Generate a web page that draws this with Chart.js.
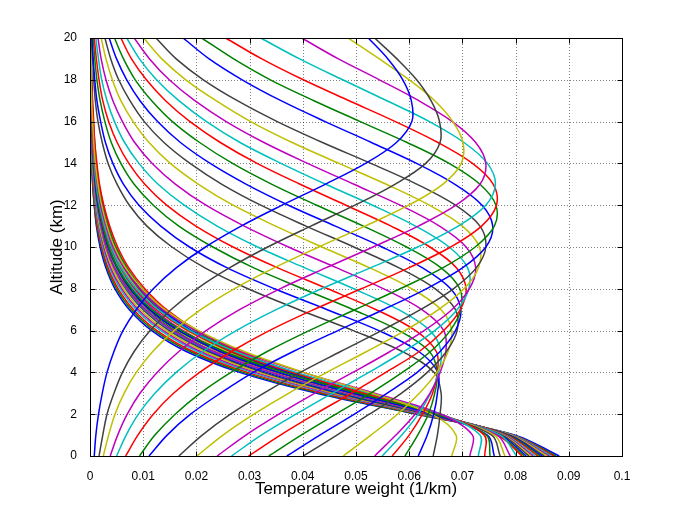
<!DOCTYPE html>
<html>
<head>
<meta charset="utf-8">
<script src="https://cdn.jsdelivr.net/npm/chart.js@4.4.1/dist/chart.umd.min.js"></script>
<style>
  html, body { margin: 0; padding: 0; background: #fff; }
  #wrap { width: 685px; height: 513px; }
</style>
</head>
<body>
<div id="wrap"><canvas id="chart" width="685" height="513"></canvas></div>
<script>
// altitude levels (km) shared by every curve
const altitudes = [0, 1, 2, 3, 4, 5, 6, 7, 8, 9, 10, 11, 12, 13, 14, 15, 16, 17, 18, 19, 20];

const xTickValues = [0, 0.01, 0.02, 0.03, 0.04, 0.05, 0.06, 0.07, 0.08, 0.09, 0.1];
const xTickLabels = ['0', '0.01', '0.02', '0.03', '0.04', '0.05', '0.06', '0.07', '0.08', '0.09', '0.1'];
const yTickValues = [0, 2, 4, 6, 8, 10, 12, 14, 16, 18, 20];
const yTickLabels = ['0', '2', '4', '6', '8', '10', '12', '14', '16', '18', '20'];

// temperature weight (1/km) of each channel, highest peak first
const w01 = [.0008,.0011,.0016,.0023,.0032,.0045,.0062,.0087,.0119,.0162,.0217,.0284,.0361,.0442,.0518,.0576,.0605,.0604,.0588,.0560,.0523];
const w02 = [.0017,.0024,.0032,.0045,.0061,.0083,.0113,.0152,.0201,.0262,.0334,.0415,.0498,.0573,.0631,.0658,.0657,.0641,.0614,.0577,.0535];
const w03 = [.0025,.0035,.0047,.0064,.0087,.0118,.0158,.0208,.0271,.0346,.0430,.0517,.0599,.0663,.0698,.0701,.0682,.0648,.0600,.0544,.0485];
const w04 = [.0038,.0052,.0070,.0094,.0126,.0167,.0218,.0281,.0357,.0443,.0532,.0617,.0688,.0733,.0744,.0725,.0681,.0618,.0544,.0467,.0398];
const w05 = [.0050,.0068,.0091,.0122,.0162,.0212,.0275,.0350,.0435,.0527,.0616,.0692,.0744,.0762,.0747,.0703,.0638,.0558,.0475,.0394,.0321];
const w06 = [.0067,.0090,.0119,.0157,.0206,.0266,.0337,.0420,.0510,.0599,.0678,.0736,.0764,.0758,.0719,.0654,.0574,.0487,.0401,.0323,.0255];
const w07 = [.0093,.0122,.0160,.0207,.0265,.0333,.0412,.0498,.0583,.0663,.0724,.0760,.0763,.0733,.0675,.0596,.0508,.0421,.0339,.0270,.0210];
const w08 = [.0111,.0145,.0189,.0245,.0307,.0382,.0466,.0551,.0632,.0700,.0744,.0757,.0737,.0686,.0614,.0529,.0442,.0359,.0286,.0224,.0175];
const w09 = [.0167,.0211,.0264,.0326,.0395,.0471,.0548,.0621,.0683,.0726,.0744,.0733,.0687,.0615,.0528,.0437,.0352,.0277,.0213,.0162,.0124];
const w10 = [.0201,.0250,.0308,.0373,.0445,.0520,.0592,.0655,.0703,.0730,.0732,.0700,.0638,.0557,.0468,.0380,.0302,.0237,.0180,.0135,.0101];
const w11 = [.0239,.0293,.0355,.0422,.0494,.0564,.0628,.0680,.0713,.0725,.0707,.0657,.0583,.0496,.0409,.0327,.0256,.0197,.0149,.0112,.0083];
const w12 = [.0266,.0322,.0387,.0455,.0524,.0590,.0648,.0690,.0712,.0710,.0675,.0612,.0531,.0443,.0359,.0282,.0219,.0167,.0125,.0093,.0069];
const w13 = [.0298,.0358,.0423,.0491,.0556,.0619,.0665,.0696,.0707,.0689,.0639,.0566,.0481,.0395,.0314,.0245,.0188,.0142,.0106,.0078,.0058];
const w14 = [.0336,.0397,.0462,.0527,.0587,.0640,.0677,.0697,.0695,.0660,.0595,.0514,.0426,.0342,.0268,.0206,.0155,.0116,.0085,.0063,.0046];
const w15 = [.0370,.0432,.0497,.0558,.0615,.0658,.0687,.0697,.0678,.0625,.0549,.0461,.0373,.0294,.0226,.0170,.0127,.0094,.0069,.0050,.0036];
const w16 = [.0401,.0464,.0525,.0585,.0634,.0670,.0690,.0687,.0649,.0581,.0496,.0406,.0321,.0248,.0188,.0139,.0102,.0075,.0054,.0039,.0028];
const w17 = [.0476,.0528,.0578,.0619,.0652,.0673,.0680,.0660,.0605,.0526,.0436,.0349,.0269,.0204,.0151,.0111,.0081,.0058,.0042,.0030,.0021];
const w18 = [.0535,.0575,.0611,.0639,.0658,.0669,.0665,.0624,.0552,.0464,.0373,.0290,.0218,.0161,.0117,.0084,.0061,.0043,.0030,.0021,.0015];
const w19 = [.0549,.0586,.0617,.0640,.0655,.0660,.0639,.0580,.0496,.0404,.0315,.0239,.0177,.0128,.0092,.0065,.0046,.0032,.0022,.0016,.0011];
const w20 = [.0568,.0600,.0625,.0644,.0653,.0651,.0612,.0538,.0447,.0353,.0269,.0199,.0144,.0103,.0073,.0051,.0035,.0024,.0017,.0012,.0008];
const w21 = [.0592,.0616,.0636,.0648,.0653,.0638,.0581,.0495,.0400,.0308,.0231,.0167,.0119,.0083,.0058,.0040,.0028,.0019,.0013,.0009,.0006];
const w22 = [.0617,.0634,.0646,.0653,.0654,.0618,.0543,.0446,.0347,.0258,.0187,.0133,.0092,.0063,.0043,.0029,.0020,.0013,.0009,.0006,.0004];
const w23 = [.0645,.0653,.0658,.0660,.0647,.0587,.0495,.0393,.0297,.0216,.0154,.0107,.0074,.0051,.0034,.0023,.0015,.0010,.0007,.0005,.0003];
const w24 = [.0680,.0688,.0642,.0530,.0402,.0290,.0204,.0141,.0098,.0067,.0046,.0032,.0022,.0015,.0010,.0007,.0005,.0003,.0002,.0002,.0001];
const w25 = [.0714,.0719,.0660,.0535,.0400,.0285,.0199,.0137,.0094,.0064,.0043,.0030,.0020,.0014,.0009,.0006,.0004,.0003,.0002,.0001,.0001];
const w26 = [.0730,.0733,.0660,.0526,.0388,.0273,.0188,.0128,.0087,.0059,.0040,.0027,.0018,.0012,.0008,.0006,.0004,.0003,.0002,.0001,.0001];
const w27 = [.0742,.0741,.0659,.0520,.0380,.0267,.0184,.0125,.0085,.0058,.0039,.0026,.0018,.0012,.0008,.0005,.0004,.0002,.0002,.0001,.0001];
const w28 = [.0752,.0745,.0650,.0504,.0364,.0252,.0172,.0116,.0078,.0052,.0035,.0024,.0016,.0011,.0007,.0005,.0003,.0002,.0001,.0001,.0001];
const w29 = [.0760,.0747,.0643,.0494,.0354,.0245,.0167,.0112,.0076,.0051,.0034,.0023,.0015,.0010,.0007,.0005,.0003,.0002,.0001,.0001,.0001];
const w30 = [.0771,.0755,.0645,.0493,.0353,.0244,.0166,.0112,.0075,.0051,.0034,.0023,.0015,.0010,.0007,.0005,.0003,.0002,.0001,.0001,.0001];
const w31 = [.0780,.0760,.0645,.0491,.0351,.0242,.0165,.0111,.0075,.0050,.0034,.0023,.0015,.0010,.0007,.0005,.0003,.0002,.0001,.0001,.0001];
const w32 = [.0790,.0765,.0641,.0482,.0340,.0232,.0156,.0105,.0070,.0046,.0031,.0021,.0014,.0009,.0006,.0004,.0003,.0002,.0001,.0001,.0000];
const w33 = [.0802,.0771,.0642,.0480,.0339,.0231,.0155,.0104,.0069,.0046,.0031,.0020,.0013,.0009,.0006,.0004,.0003,.0002,.0001,.0001,.0000];
const w34 = [.0812,.0766,.0651,.0513,.0384,.0281,.0202,.0144,.0103,.0073,.0052,.0037,.0026,.0018,.0013,.0009,.0007,.0005,.0003,.0002,.0002];
const w35 = [.0816,.0768,.0651,.0509,.0380,.0276,.0197,.0140,.0099,.0070,.0049,.0035,.0025,.0017,.0012,.0009,.0006,.0004,.0003,.0002,.0001];
const w36 = [.0820,.0771,.0649,.0504,.0374,.0269,.0191,.0135,.0095,.0067,.0047,.0033,.0023,.0016,.0011,.0008,.0006,.0004,.0003,.0002,.0001];
const w37 = [.0825,.0774,.0649,.0501,.0369,.0264,.0187,.0131,.0092,.0064,.0045,.0031,.0022,.0015,.0011,.0007,.0005,.0004,.0002,.0002,.0001];
const w38 = [.0829,.0776,.0647,.0497,.0364,.0259,.0182,.0127,.0089,.0061,.0043,.0030,.0020,.0014,.0010,.0007,.0005,.0003,.0002,.0002,.0001];
const w39 = [.0833,.0778,.0645,.0491,.0356,.0252,.0175,.0121,.0084,.0058,.0040,.0027,.0019,.0013,.0009,.0006,.0004,.0003,.0002,.0001,.0001];
const w40 = [.0837,.0780,.0643,.0487,.0351,.0246,.0171,.0118,.0081,.0055,.0038,.0026,.0018,.0012,.0008,.0006,.0004,.0003,.0002,.0001,.0001];
const w41 = [.0842,.0783,.0642,.0483,.0346,.0241,.0166,.0114,.0078,.0053,.0036,.0025,.0017,.0011,.0008,.0005,.0004,.0002,.0002,.0001,.0001];
const w42 = [.0846,.0785,.0639,.0477,.0338,.0233,.0160,.0109,.0073,.0050,.0033,.0023,.0015,.0010,.0007,.0005,.0003,.0002,.0001,.0001,.0001];
const w43 = [.0850,.0787,.0637,.0471,.0332,.0228,.0154,.0104,.0070,.0047,.0032,.0021,.0014,.0010,.0006,.0004,.0003,.0002,.0001,.0001,.0001];
const w44 = [.0854,.0789,.0634,.0466,.0325,.0222,.0149,.0100,.0067,.0045,.0030,.0020,.0013,.0009,.0006,.0004,.0003,.0002,.0001,.0001,.0001];
const w45 = [.0859,.0791,.0631,.0459,.0318,.0215,.0143,.0095,.0063,.0042,.0028,.0018,.0012,.0008,.0005,.0004,.0002,.0002,.0001,.0001,.0000];
const w46 = [.0863,.0792,.0628,.0453,.0311,.0208,.0138,.0091,.0060,.0039,.0026,.0017,.0011,.0007,.0005,.0003,.0002,.0001,.0001,.0001,.0000];
const w47 = [.0867,.0794,.0624,.0447,.0304,.0202,.0133,.0087,.0057,.0037,.0024,.0016,.0010,.0007,.0004,.0003,.0002,.0001,.0001,.0001,.0000];
const w48 = [.0872,.0795,.0620,.0439,.0296,.0194,.0126,.0082,.0053,.0034,.0022,.0014,.0009,.0006,.0004,.0003,.0002,.0001,.0001,.0000,.0000];
const w49 = [.0876,.0796,.0616,.0432,.0288,.0188,.0121,.0078,.0050,.0032,.0021,.0013,.0008,.0005,.0003,.0002,.0001,.0001,.0001,.0000,.0000];
const w50 = [.0882,.0799,.0613,.0426,.0281,.0181,.0116,.0074,.0047,.0030,.0019,.0012,.0008,.0005,.0003,.0002,.0001,.0001,.0001,.0000,.0000];

const curves = [w01, w02, w03, w04, w05, w06, w07, w08, w09, w10,
                w11, w12, w13, w14, w15, w16, w17, w18, w19, w20,
                w21, w22, w23, w24, w25, w26, w27, w28, w29, w30,
                w31, w32, w33, w34, w35, w36, w37, w38, w39, w40,
                w41, w42, w43, w44, w45, w46, w47, w48, w49, w50];

// matlab line colours, cycling (curves were plotted in reverse order)
const palette = ['#0000ff', '#404040', '#bfbf00', '#bf00bf', '#00bfbf', '#ff0000', '#008000'];

const FONT = "'Liberation Sans', Arial, Helvetica, sans-serif";

const datasets = curves.map((w, i) => ({
    label: 'ch' + (i + 1),
    data: altitudes.map((a, j) => ({ x: w[j], y: a })),
    showLine: true,
    borderColor: palette[i % palette.length],
    backgroundColor: palette[i % palette.length],
    borderWidth: 1.5,
    pointRadius: 0,
    tension: 0.35,
    fill: false
}));

// dotted grid, box and inward ticks like a matlab axes
const matlabAxes = {
    id: 'matlabAxes',
    beforeDatasetsDraw(chart) {
        const { ctx, chartArea: a, scales: { x, y } } = chart;
        ctx.save();
        ctx.strokeStyle = 'rgba(0,0,0,0.5)';
        ctx.lineWidth = 1;
        ctx.setLineDash([1, 2]);
        xTickValues.slice(1, -1).forEach(v => {
            const px = Math.round(x.getPixelForValue(v)) + 0.5;
            ctx.beginPath();
            ctx.moveTo(px, a.top);
            ctx.lineTo(px, a.bottom);
            ctx.stroke();
        });
        yTickValues.slice(1, -1).forEach(v => {
            const py = Math.round(y.getPixelForValue(v)) + 0.5;
            ctx.beginPath();
            ctx.moveTo(a.left, py);
            ctx.lineTo(a.right, py);
            ctx.stroke();
        });
        ctx.restore();
    },
    afterDatasetsDraw(chart) {
        const { ctx, chartArea: a, scales: { x, y } } = chart;
        const L = Math.round(a.left) + 0.5, R = Math.round(a.right) + 0.5;
        const T = Math.round(a.top) + 0.5, B = Math.round(a.bottom) + 0.5;
        const len = 5;
        ctx.save();
        ctx.strokeStyle = '#000';
        ctx.lineWidth = 1;
        ctx.strokeRect(L, T, R - L, B - T);
        ctx.beginPath();
        xTickValues.forEach(v => {
            const px = Math.round(x.getPixelForValue(v)) + 0.5;
            ctx.moveTo(px, B); ctx.lineTo(px, B - len);
            ctx.moveTo(px, T); ctx.lineTo(px, T + len);
        });
        yTickValues.forEach(v => {
            const py = Math.round(y.getPixelForValue(v)) + 0.5;
            ctx.moveTo(L, py); ctx.lineTo(L + len, py);
            ctx.moveTo(R, py); ctx.lineTo(R - len, py);
        });
        ctx.stroke();
        ctx.restore();
    }
};

new Chart(document.getElementById('chart'), {
    type: 'scatter',
    data: { datasets },
    options: {
        responsive: false,
        animation: false,
        devicePixelRatio: 1,
        layout: { padding: { left: 0, right: 63, top: 38, bottom: 0 } },
        plugins: {
            legend: { display: false },
            tooltip: { enabled: false }
        },
        scales: {
            x: {
                type: 'linear',
                min: 0,
                max: 0.1,
                afterFit: s => { s.height = 57; },
                afterBuildTicks: s => { s.ticks = xTickValues.map(v => ({ value: v })); },
                grid: { display: false },
                border: { display: false },
                ticks: {
                    padding: 5,
                    color: '#000',
                    font: { family: FONT, size: 12 },
                    maxRotation: 0,
                    autoSkip: false,
                    callback: (v, i) => xTickLabels[i]
                },
                title: {
                    display: true,
                    text: 'Temperature weight (1/km)',
                    color: '#000',
                    font: { family: FONT, size: 17 },
                    padding: { top: 0, bottom: 13 }
                }
            },
            y: {
                type: 'linear',
                min: 0,
                max: 20,
                afterFit: s => { s.width = 90; },
                afterBuildTicks: s => { s.ticks = yTickValues.map(v => ({ value: v })); },
                grid: { display: false },
                border: { display: false },
                ticks: {
                    padding: 5,
                    color: '#000',
                    font: { family: FONT, size: 12 },
                    autoSkip: false,
                    callback: (v, i) => yTickLabels[i]
                },
                title: {
                    display: true,
                    text: 'Altitude (km)',
                    color: '#000',
                    font: { family: FONT, size: 17 },
                    padding: { top: 47, bottom: 0 }
                }
            }
        }
    },
    plugins: [matlabAxes]
});
</script>
</body>
</html>
